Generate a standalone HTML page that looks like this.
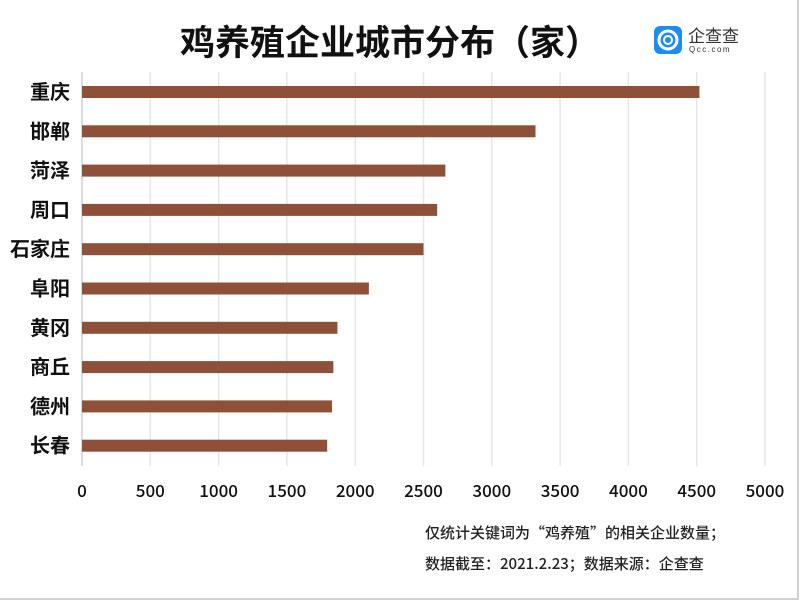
<!DOCTYPE html>
<html><head><meta charset="utf-8"><style>
body{margin:0;width:800px;height:601px;background:#fff;overflow:hidden;font-family:"Liberation Sans","Noto Sans CJK SC",sans-serif}
#frame{position:absolute;left:0;top:0;width:797px;height:598px;border-right:2px solid #d0d0d0;border-bottom:2px solid #d0d0d0}
</style></head><body>
<div id="frame"></div>
<svg width="800" height="601" style="position:absolute;left:0;top:0">
<text x="390" y="55" text-anchor="middle" font-size="35" font-weight="bold" fill="#111" font-family="Liberation Sans,Noto Sans CJK SC,sans-serif">鸡养殖企业城市分布（家）</text>
<g>
<rect x="654" y="26" width="28" height="28" rx="6" fill="#1d8cf0"/>
<circle cx="668" cy="40" r="9" fill="none" stroke="#fff" stroke-width="3"/>
<circle cx="668" cy="40" r="4" fill="none" stroke="#fff" stroke-width="2"/>
<text x="688" y="42" font-size="17" fill="#333" font-family="Noto Sans CJK SC,sans-serif">企查查</text>
<text x="689" y="52" font-size="8" fill="#333" letter-spacing="1.5">Qcc.com</text>
</g>
<g id="grid"></g><g id="bars"></g><g id="labels"></g><g id="ticks"></g>
<text x="425" y="538" font-size="15" font-weight="500" fill="#222" font-family="Noto Sans CJK SC,sans-serif">仅统计关键词为“鸡养殖”的相关企业数量；</text>
<text x="425" y="569" font-size="15" font-weight="500" fill="#222" font-family="Noto Sans CJK SC,sans-serif">数据截至：2021.2.23；数据来源：企查查</text>
</svg>
<script>
const categories=["重庆","邯郸","菏泽","周口","石家庄","阜阳","黄冈","商丘","德州","长春"];
const values=[4520,3320,2660,2600,2500,2100,1870,1840,1830,1795];
const tickValues=[0,500,1000,1500,2000,2500,3000,3500,4000,4500,5000];
const NS="http://www.w3.org/2000/svg";
const x=v=>82+v*683/5000;
const y=i=>92+i*39.3;
function mk(t,a,p){const e=document.createElementNS(NS,t);for(const k in a)e.setAttribute(k,a[k]);document.getElementById(p).appendChild(e);return e;}
tickValues.forEach(t=>{
 const g=mk('line',{x1:x(t),x2:x(t),y1:72,y2:466,stroke:t===0?'#d0d0d0':'#e6e6e6','stroke-width':1.5},'grid');
 
 
 const l=mk('text',{x:x(t),y:497,'text-anchor':'middle','font-size':17,'font-weight':500,fill:'#111','font-family':'Noto Sans CJK SC,sans-serif'},'ticks');
 l.textContent=t;
 
 
});
categories.forEach((c,i)=>{
 const b=mk('rect',{x:x(0),y:y(i)-6,width:x(values[i])-x(0),height:12,fill:'#8e5038'},'bars');
 
 
 const l=mk('text',{x:70,y:y(i)+7,'text-anchor':'end','font-size':20,'font-weight':'bold',fill:'#111'},'labels');
 l.textContent=c;
 
 
});
</script>
</body></html>
